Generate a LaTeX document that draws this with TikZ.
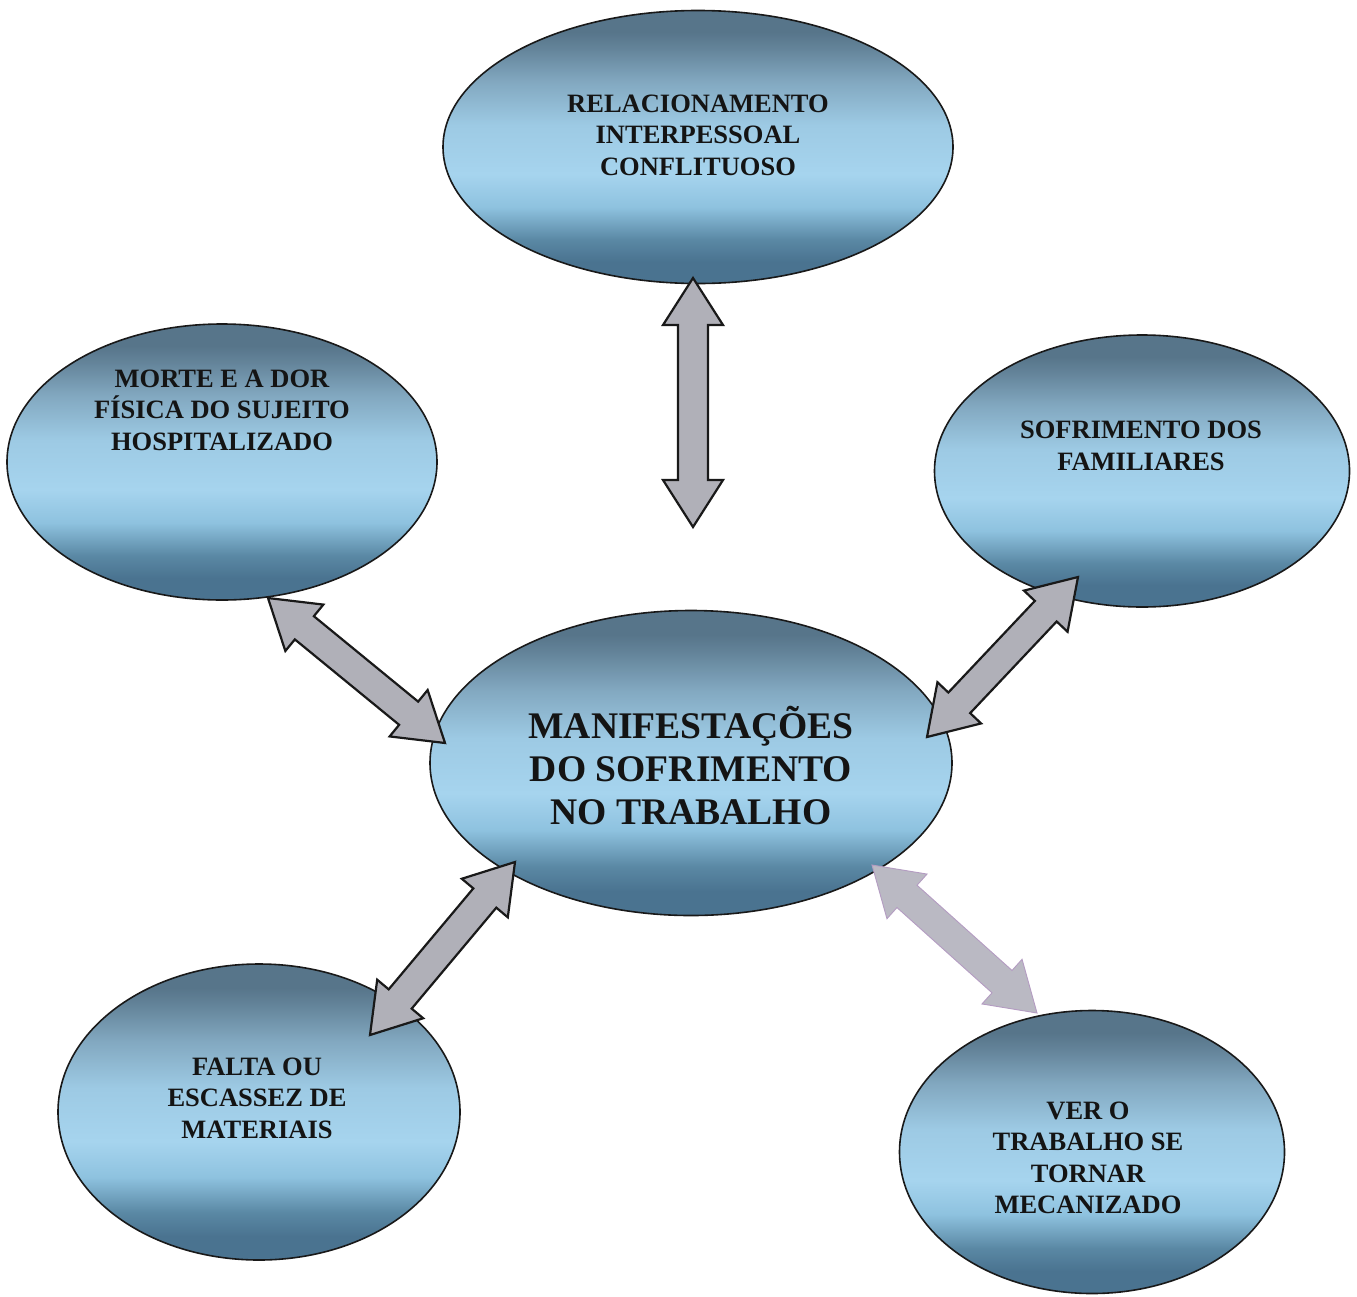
\documentclass[tikz,border=0pt]{standalone}
\usepackage{fontspec}
\setmainfont{Liberation Serif}
\usetikzlibrary{shapes.geometric,calc}
\definecolor{ebot}{HTML}{4A7390}
\definecolor{ebot2}{HTML}{5A88A4}
\definecolor{elow}{HTML}{8EC2DF}
\definecolor{elt}{HTML}{A6D4EE}
\definecolor{emid}{HTML}{9DCAE4}
\definecolor{eup}{HTML}{82A8C0}
\definecolor{etop2}{HTML}{64849A}
\definecolor{etop}{HTML}{57758A}
\definecolor{arrfill}{HTML}{B0B0B8}
\definecolor{arrlite}{HTML}{BAB9C3}
\definecolor{arredge}{HTML}{B49CC2}
% path box is mapped to 25bp..75bp
\pgfdeclareverticalshading{ellsh}{100bp}{color(0bp)=(ebot); color(25bp)=(ebot); color(29bp)=(ebot); color(33bp)=(ebot2); color(39bp)=(elow); color(45bp)=(elt); color(54bp)=(emid); color(62bp)=(eup); color(68bp)=(etop2); color(71bp)=(etop); color(75bp)=(etop); color(100bp)=(etop)}
\def\ahl{47pt}
\def\ahw{30pt}
\def\asw{15pt}
\newcommand{\dblfat}[3][]{%
  \draw[fatarrow,#1] (#2) -- ($(#2)!\ahl!(#3)!\ahw!90:(#3)$) -- ($(#2)!\ahl!(#3)!\asw!90:(#3)$)
   -- ($(#3)!\ahl!(#2)!\asw!-90:(#2)$) -- ($(#3)!\ahl!(#2)!\ahw!-90:(#2)$) -- (#3)
   -- ($(#3)!\ahl!(#2)!\ahw!90:(#2)$) -- ($(#3)!\ahl!(#2)!\asw!90:(#2)$)
   -- ($(#2)!\ahl!(#3)!\asw!-90:(#3)$) -- ($(#2)!\ahl!(#3)!\ahw!-90:(#3)$) -- cycle;}
\tikzset{
  ell/.style={ellipse, draw=black!90, line width=1.6pt, shading=ellsh, inner sep=0pt},
  lbl/.style={align=center, font=\fontsize{26.5}{31.5}\selectfont\bfseries, text=black!92, inner sep=0pt},
  biglbl/.style={align=center, font=\fontsize{37.6}{43}\selectfont\bfseries, text=black!92, inner sep=0pt},
  fatarrow/.style={draw=black!90, line width=2.2pt, fill=arrfill, line join=miter},
  paler/.style={draw=arredge, line width=0.9pt, fill=arrlite}
}
\begin{document}
\begin{tikzpicture}[x=1pt,y=-1pt]
\path[use as bounding box, fill=white] (0,0) rectangle (1357,1296);
% ellipses
\node[ell, minimum width=510pt, minimum height=273pt] (T) at (698,147) {};
\node[ell, minimum width=430pt, minimum height=276pt] (L) at (222,462) {};
\node[ell, minimum width=415pt, minimum height=272pt] (R) at (1142,471) {};
\node[ell, minimum width=522pt, minimum height=305pt] (C) at (691,763) {};
\node[ell, minimum width=402pt, minimum height=296pt] (BL) at (259,1112) {};
\node[ell, minimum width=385pt, minimum height=283pt] (BR) at (1092,1152) {};
% labels
\node[lbl] (tT) at ($(T.center)+(0,-12)$) {RELACIONAMENTO\\INTERPESSOAL\\CONFLITUOSO};
\node[lbl] (tL) at ($(L.center)+(0,-52)$) {MORTE E A DOR\\FÍSICA DO SUJEITO\\HOSPITALIZADO};
\node[lbl] (tR) at ($(R.center)+(-1,-25)$) {SOFRIMENTO DOS\\FAMILIARES};
\node[biglbl] (tC) at ($(C.center)+(0,3)$) {MANIFESTAÇÕES\\DO SOFRIMENTO\\NO TRABALHO};
\node[lbl] (tBL) at ($(BL.center)+(-2,-14)$) {FALTA OU\\ESCASSEZ DE\\MATERIAIS};
\node[lbl] (tBR) at ($(BR.center)+(-4,6)$) {VER O\\TRABALHO SE\\TORNAR\\MECANIZADO};
% arrow end points
\coordinate (vA) at ($(T.center)+(-5,131)$);
\coordinate (vB) at ($(T.center)+(-5,380)$);
\coordinate (ulA) at ($(L.center)+(46,136)$);
\coordinate (ulB) at ($(C.center)+(-246,-20)$);
\coordinate (urA) at ($(R.center)+(-64,106)$);
\coordinate (urB) at ($(C.center)+(236,-26)$);
\coordinate (llA) at ($(C.center)+(-176,99)$);
\coordinate (llB) at ($(BL.center)+(111,-77)$);
\coordinate (lrA) at ($(C.center)+(181,102)$);
\coordinate (lrB) at ($(BR.center)+(-55,-139)$);
% arrows
\dblfat{vA}{vB}
\dblfat{ulA}{ulB}
\dblfat{urA}{urB}
\dblfat{llA}{llB}
\dblfat[paler]{lrA}{lrB}
\end{tikzpicture}
\end{document}
